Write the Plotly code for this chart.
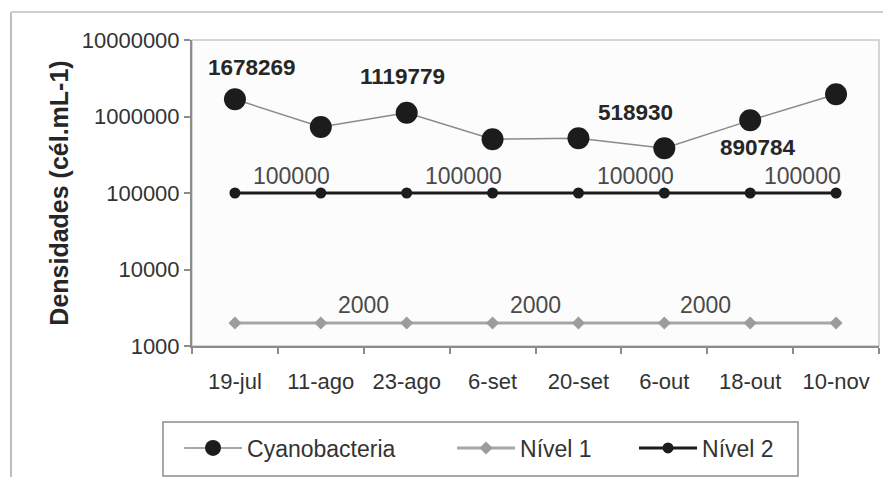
import math
import plotly.graph_objects as go

# Sampling dates
datas = ["19-jul", "11-ago", "23-ago", "6-set", "20-set", "6-out", "18-out", "10-nov"]

# Cyanobacteria densities (cells per mL)
cianobacterias = [1678269, 730000, 1119779, 505000, 518930, 384000, 890784, 1950000]

# Alert levels
nivel_1 = [2000] * 8
nivel_2 = [100000] * 8

# Axis ticks
y_ticks = [1000, 10000, 100000, 1000000, 10000000]
y_ticktext = ["1000", "10000", "100000", "1000000", "10000000"]

# Which points carry a value label, and the label offsets (px)
rotulos_ciano = {0: (17, 32), 2: (-4, 36), 4: (57, 26), 6: (8, -27)}
rotulos_n2 = {0: (57, 17), 2: (57, 17), 4: (57, 17), 6: (52, 17)}
rotulos_n1 = {1: (43, 18), 3: (43, 18), 5: (41, 18)}

FONT = "Liberation Sans, Arial, sans-serif"

fig = go.Figure()

fig.add_trace(go.Scatter(
    x=datas, y=cianobacterias, name="Cyanobacteria", mode="lines+markers",
    line=dict(color="#8a8a8a", width=1.5),
    marker=dict(symbol="circle", size=22, color="#1c1c1c"),
    legend="legend",
))
fig.add_trace(go.Scatter(
    x=datas, y=nivel_1, name="Nível 1", mode="lines+markers",
    line=dict(color="#a6a6a6", width=3),
    marker=dict(symbol="diamond", size=10, color="#9c9c9c"),
    legend="legend2",
))
fig.add_trace(go.Scatter(
    x=datas, y=nivel_2, name="Nível 2", mode="lines+markers",
    line=dict(color="#1c1c1c", width=3),
    marker=dict(symbol="circle", size=11, color="#1c1c1c"),
    legend="legend3",
))

# On a log axis annotation positions are given in log10 units
anotacoes = []
for i, (dx, dy) in rotulos_ciano.items():
    anotacoes.append(dict(x=datas[i], y=math.log10(cianobacterias[i]), xref="x", yref="y",
                          text=f"<b>{cianobacterias[i]}</b>", showarrow=False,
                          xshift=dx, yshift=dy,
                          font=dict(family=FONT, size=22.5, color="#262626")))
for i, (dx, dy) in rotulos_n2.items():
    anotacoes.append(dict(x=datas[i], y=math.log10(nivel_2[i]), xref="x", yref="y",
                          text=str(nivel_2[i]), showarrow=False,
                          xshift=dx, yshift=dy,
                          font=dict(family=FONT, size=23, color="#4a4a4a")))
for i, (dx, dy) in rotulos_n1.items():
    anotacoes.append(dict(x=datas[i], y=math.log10(nivel_1[i]), xref="x", yref="y",
                          text=str(nivel_1[i]), showarrow=False,
                          xshift=dx, yshift=dy,
                          font=dict(family=FONT, size=23, color="#4a4a4a")))

# Chart-area frame (left and top edges), plot-area border and legend box
formas = [
    dict(type="line", xref="paper", yref="paper", x0=-0.2635, x1=-0.2635,
         y0=1.0915, y1=-0.45, line=dict(color="#bdbdbd", width=2)),
    dict(type="line", xref="paper", yref="paper", x0=-0.2635, x1=1.01,
         y0=1.0915, y1=1.0915, line=dict(color="#cfcfcf", width=2)),
    dict(type="rect", xref="paper", yref="paper", x0=0, x1=1, y0=0, y1=1,
         line=dict(color="#c8c8c8", width=1.5), layer="below"),
    dict(type="rect", xref="paper", yref="paper", x0=-0.0422, x1=0.8821,
         y0=-0.2484, y1=-0.4248, line=dict(color="#8c8c8c", width=1.5),
         fillcolor="#ffffff", layer="below"),
]

legenda_base = dict(
    orientation="h", xanchor="left", yanchor="middle", y=-0.3333,
    borderwidth=0, bgcolor="rgba(0,0,0,0)",
    font=dict(family=FONT, size=23, color="#333333"),
    itemwidth=58,
)

fig.update_layout(
    width=883, height=477,
    margin=dict(l=192, r=4, t=40, b=131),
    paper_bgcolor="#ffffff",
    plot_bgcolor="#fcfcfc",
    font=dict(family=FONT, size=22, color="#333333"),
    showlegend=True,
    legend=dict(legenda_base, x=-0.0189),
    legend2=dict(legenda_base, x=0.3785),
    legend3=dict(legenda_base, x=0.6434),
    annotations=anotacoes,
    shapes=formas,
)

fig.update_xaxes(
    type="category", range=[-0.5, 7.5],
    showline=True, linecolor="#8c8c8c", linewidth=2,
    ticks="outside", tickson="boundaries", ticklen=6, tickcolor="#8c8c8c", tickwidth=2,
    showgrid=False, zeroline=False,
    tickfont=dict(family=FONT, size=22, color="#333333"),
    ticklabelstandoff=15,
)
fig.update_yaxes(
    type="log", range=[3, 7],
    tickvals=y_ticks, ticktext=y_ticktext,
    showline=True, linecolor="#8c8c8c", linewidth=2,
    ticks="outside", ticklen=6, tickcolor="#8c8c8c", tickwidth=2,
    showgrid=False, zeroline=False,
    tickfont=dict(family=FONT, size=22, color="#333333"),
    title=dict(text="<b>Densidades (cél.mL-1)</b>", standoff=6,
               font=dict(family=FONT, size=25, color="#262626")),
)

fig.write_html("out.html")
